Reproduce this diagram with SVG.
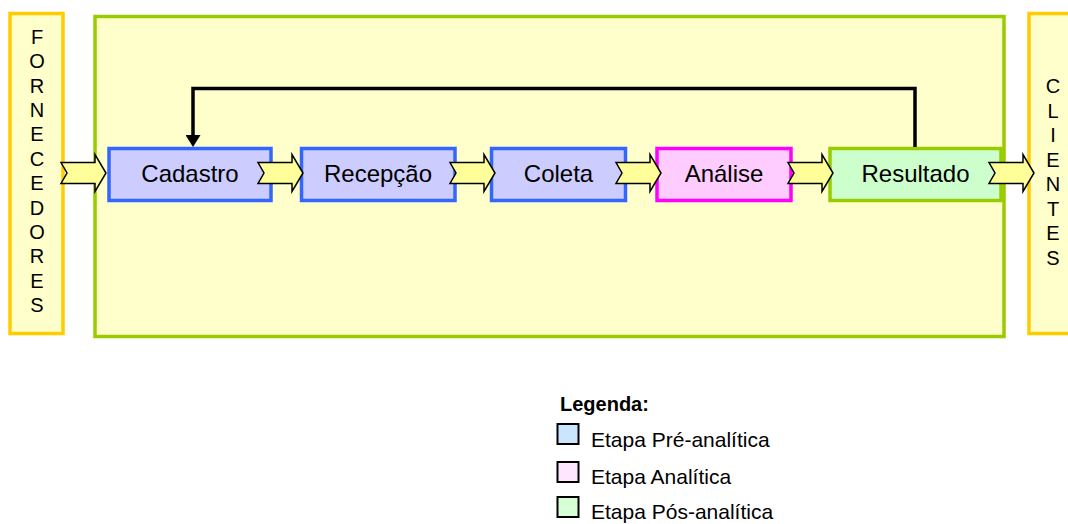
<svg xmlns="http://www.w3.org/2000/svg" width="1068" height="524" viewBox="0 0 1068 524">
<style>
text{font-family:"Liberation Sans",Arial,sans-serif;fill:#000}
.col{font-size:20px;text-anchor:middle}
.lbl{font-size:24px;text-anchor:middle}
.leg{font-size:21px}
.side{fill:#FFFFCC;stroke:#FFCC00;stroke-width:3.5}
.pre{fill:#CCCCFF;stroke:#3366FF;stroke-width:3.5}
.ana{fill:#FFCCFF;stroke:#FF00FF;stroke-width:3.5}
.pos{fill:#CCFFCC;stroke:#99CC00;stroke-width:3.5}
.blk{fill:#FFFF99;stroke:#000;stroke-width:1.5;stroke-linejoin:miter}
.sq{stroke:#000;stroke-width:2}
</style>
<defs>
<path id="barrow" d="M0,-10.5 L34,-10.5 L34,-18.5 L45,0 L34,18.5 L34,10.5 L0,10.5 L6,0 Z"/>
<marker id="ah" viewBox="0 0 12 15" refX="2" refY="7.5" markerWidth="12" markerHeight="15" markerUnits="userSpaceOnUse" orient="auto">
<path d="M0,0 L12,7.5 L0,15 Z" fill="#000"/>
</marker>
</defs>
<rect width="1068" height="524" fill="#fff"/>
<g id="fornecedores">
<rect class="side" x="10" y="13.5" width="53" height="320"/>
<text class="col" x="37" y="44">F</text>
<text class="col" x="37" y="68.4">O</text>
<text class="col" x="37" y="92.7">R</text>
<text class="col" x="37" y="117.1">N</text>
<text class="col" x="37" y="141.4">E</text>
<text class="col" x="37" y="165.8">C</text>
<text class="col" x="37" y="190.2">E</text>
<text class="col" x="37" y="214.5">D</text>
<text class="col" x="37" y="238.9">O</text>
<text class="col" x="37" y="263.2">R</text>
<text class="col" x="37" y="287.6">E</text>
<text class="col" x="37" y="312">S</text>
</g>
<g id="processo">
<rect x="95" y="16.5" width="909" height="320" fill="#FFFFCC" stroke="#99CC00" stroke-width="3.5"/>
</g>
<g id="clientes">
<rect class="side" x="1029" y="13.5" width="60" height="320"/>
<text class="col" x="1053" y="93">C</text>
<text class="col" x="1053" y="117.5">L</text>
<text class="col" x="1053" y="142">I</text>
<text class="col" x="1053" y="166.5">E</text>
<text class="col" x="1053" y="191">N</text>
<text class="col" x="1053" y="215.5">T</text>
<text class="col" x="1053" y="240">E</text>
<text class="col" x="1053" y="264.5">S</text>
</g>
<g id="cadastro">
<rect class="pre" x="109" y="148.5" width="162" height="52"/>
<text class="lbl" x="190" y="182">Cadastro</text>
</g>
<g id="recepcao">
<rect class="pre" x="301.5" y="148.5" width="153.5" height="52"/>
<text class="lbl" x="378" y="182">Recepção</text>
</g>
<g id="coleta">
<rect class="pre" x="491.5" y="148.5" width="134" height="52"/>
<text class="lbl" x="558.5" y="182">Coleta</text>
</g>
<g id="analise">
<rect class="ana" x="657" y="148.5" width="134" height="52"/>
<text class="lbl" x="724" y="182">Análise</text>
</g>
<g id="resultado">
<rect class="pos" x="830" y="148.5" width="171" height="52"/>
<text class="lbl" x="915.5" y="182">Resultado</text>
</g>
<g id="connectors">
<use href="#barrow" class="blk" transform="translate(61,173)"/>
<use href="#barrow" class="blk" transform="translate(258,173)"/>
<use href="#barrow" class="blk" transform="translate(450,173)"/>
<use href="#barrow" class="blk" transform="translate(616,173)"/>
<use href="#barrow" class="blk" transform="translate(788,173)"/>
<use href="#barrow" class="blk" transform="translate(989,173)"/>
<path d="M915,147 V88.5 H193 V137" fill="none" stroke="#000" stroke-width="3.5" marker-end="url(#ah)"/>
</g>
<g id="legenda">
<text x="560" y="411" style="font-size:20px;font-weight:bold">Legenda:</text>
<rect class="sq" x="557.5" y="424" width="21" height="20" fill="#CCE5FF"/>
<text class="leg" x="591" y="447">Etapa Pré-analítica</text>
<rect class="sq" x="557.5" y="462" width="21" height="20" fill="#FFE6FF"/>
<text class="leg" x="591" y="483.5">Etapa Analítica</text>
<rect class="sq" x="557.5" y="497" width="21" height="20" fill="#D6FFD6"/>
<text class="leg" x="591" y="518.5">Etapa Pós-analítica</text>
</g>
</svg>
